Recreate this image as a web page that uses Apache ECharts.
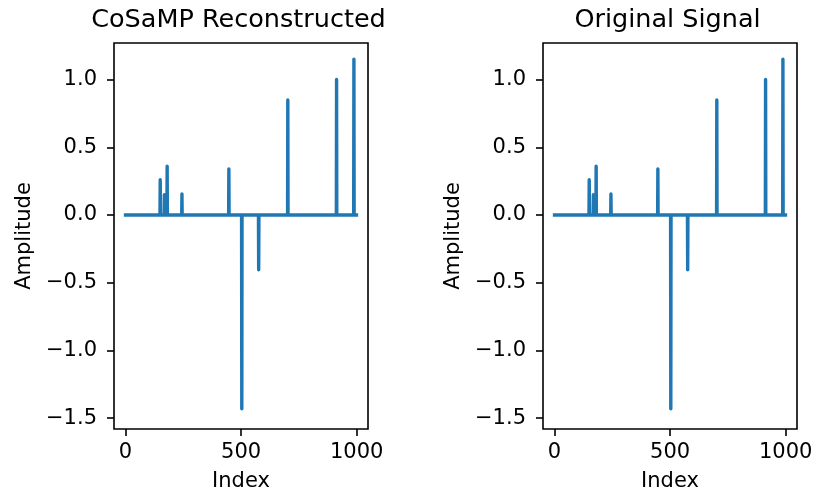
<!DOCTYPE html>
<html><head><meta charset="utf-8">
<script src="https://cdn.jsdelivr.net/npm/echarts@6/dist/echarts.min.js"></script>
<style>html,body{margin:0;padding:0;background:#fff}#c{width:813px;height:495px}</style>
</head><body><div id="c"></div>
<script>
// ---- data ----
const signalLength = 1000;
const reconIndices = [150, 168, 180, 244, 447, 503, 576, 702, 913, 988];
const reconAmps    = [0.26, 0.15, 0.36, 0.155, 0.34, -1.43, -0.405, 0.85, 1.0, 1.15];
const origIndices  = [150, 168, 180, 244, 447, 503, 576, 702, 913, 988];
const origAmps     = [0.26, 0.15, 0.36, 0.155, 0.34, -1.43, -0.405, 0.85, 1.0, 1.15];
const titles = ['CoSaMP Reconstructed', 'Original Signal'];
const xTicks = [0, 500, 1000];
const xTickLabels = ['0', '500', '1000'];
const yTicks = [-1.5, -1.0, -0.5, 0, 0.5, 1.0];
const yTickLabels = ['\u22121.5', '\u22121.0', '\u22120.5', '0.0', '0.5', '1.0'];
const xLabel = 'Index';
const yLabel = 'Amplitude';

// Full sparse signal (zeros + spikes); runs of zeros are collinear, so keep only
// the samples where the polyline changes direction (same drawn line, no sub-pixel skipping).
function buildSignal(idx, amps) {
  const arr = new Array(signalLength).fill(0);
  idx.forEach((k, j) => { arr[k] = amps[j]; });
  const pts = [];
  for (let i = 0; i < signalLength; i++) {
    const keep = i === 0 || i === signalLength - 1 || arr[i] !== 0 ||
      arr[i - 1] !== 0 || arr[i + 1] !== 0;
    if (keep) pts.push([i, arr[i]]);
  }
  return pts;
}
const signals = [buildSignal(reconIndices, reconAmps), buildSignal(origIndices, origAmps)];

const FONT = 'DejaVu Sans';
const lefts = [114, 543];
const W = 254, TOP = 43, H = 386;

function labelFor(ticks, labels) {
  return v => { const i = ticks.findIndex(t => Math.abs(t - v) < 1e-9); return i >= 0 ? labels[i] : ''; };
}

const option = {
  animation: false,
  backgroundColor: '#fff',
  title: titles.map((t, i) => ({
    text: t, left: lefts[i] + W / 2 - 7.5, top: 2, textAlign: 'center',
    textStyle: { fontFamily: FONT, fontSize: 25.5, fontWeight: 'normal', color: '#000' }
  })),
  grid: lefts.map(l => ({
    left: l, top: TOP, width: W, height: H, outerBoundsMode: 'none', containLabel: false,
    show: true, borderColor: '#000', borderWidth: 1.6, backgroundColor: 'transparent'
  })),
  xAxis: lefts.map((l, i) => ({
    type: 'value', gridIndex: i, min: -49.95, max: 1048.95,
    name: xLabel, nameLocation: 'middle', nameGap: 42,
    nameTextStyle: { fontFamily: FONT, fontSize: 21, color: '#000' },
    axisLine: { show: false, onZero: false },
    splitLine: { show: false },
    axisTick: { show: true, length: 7, inside: false, customValues: xTicks, lineStyle: { color: '#000', width: 1.6 } },
    axisLabel: { customValues: xTicks, margin: 13, fontFamily: FONT, fontSize: 21, color: '#000', formatter: labelFor(xTicks, xTickLabels) }
  })),
  yAxis: lefts.map((l, i) => ({
    type: 'value', gridIndex: i, min: -1.58, max: 1.27,
    name: yLabel, nameLocation: 'middle', nameGap: 79,
    nameTextStyle: { fontFamily: FONT, fontSize: 21, color: '#000' },
    axisLine: { show: false, onZero: false },
    splitLine: { show: false },
    axisTick: { show: true, length: 7, inside: false, customValues: yTicks, lineStyle: { color: '#000', width: 1.6 } },
    axisLabel: { customValues: yTicks, margin: 17, fontFamily: FONT, fontSize: 21, color: '#000', formatter: labelFor(yTicks, yTickLabels) }
  })),
  series: signals.map((d, i) => ({
    type: 'line', xAxisIndex: i, yAxisIndex: i, data: d,
    showSymbol: false, symbol: 'none',
    lineStyle: { color: '#1f77b4', width: 3.4, join: 'round', cap: 'square' }
  }))
};
const chart = echarts.init(document.getElementById('c'), null, { renderer: 'canvas' });
chart.setOption(option);
</script>
</body></html>
